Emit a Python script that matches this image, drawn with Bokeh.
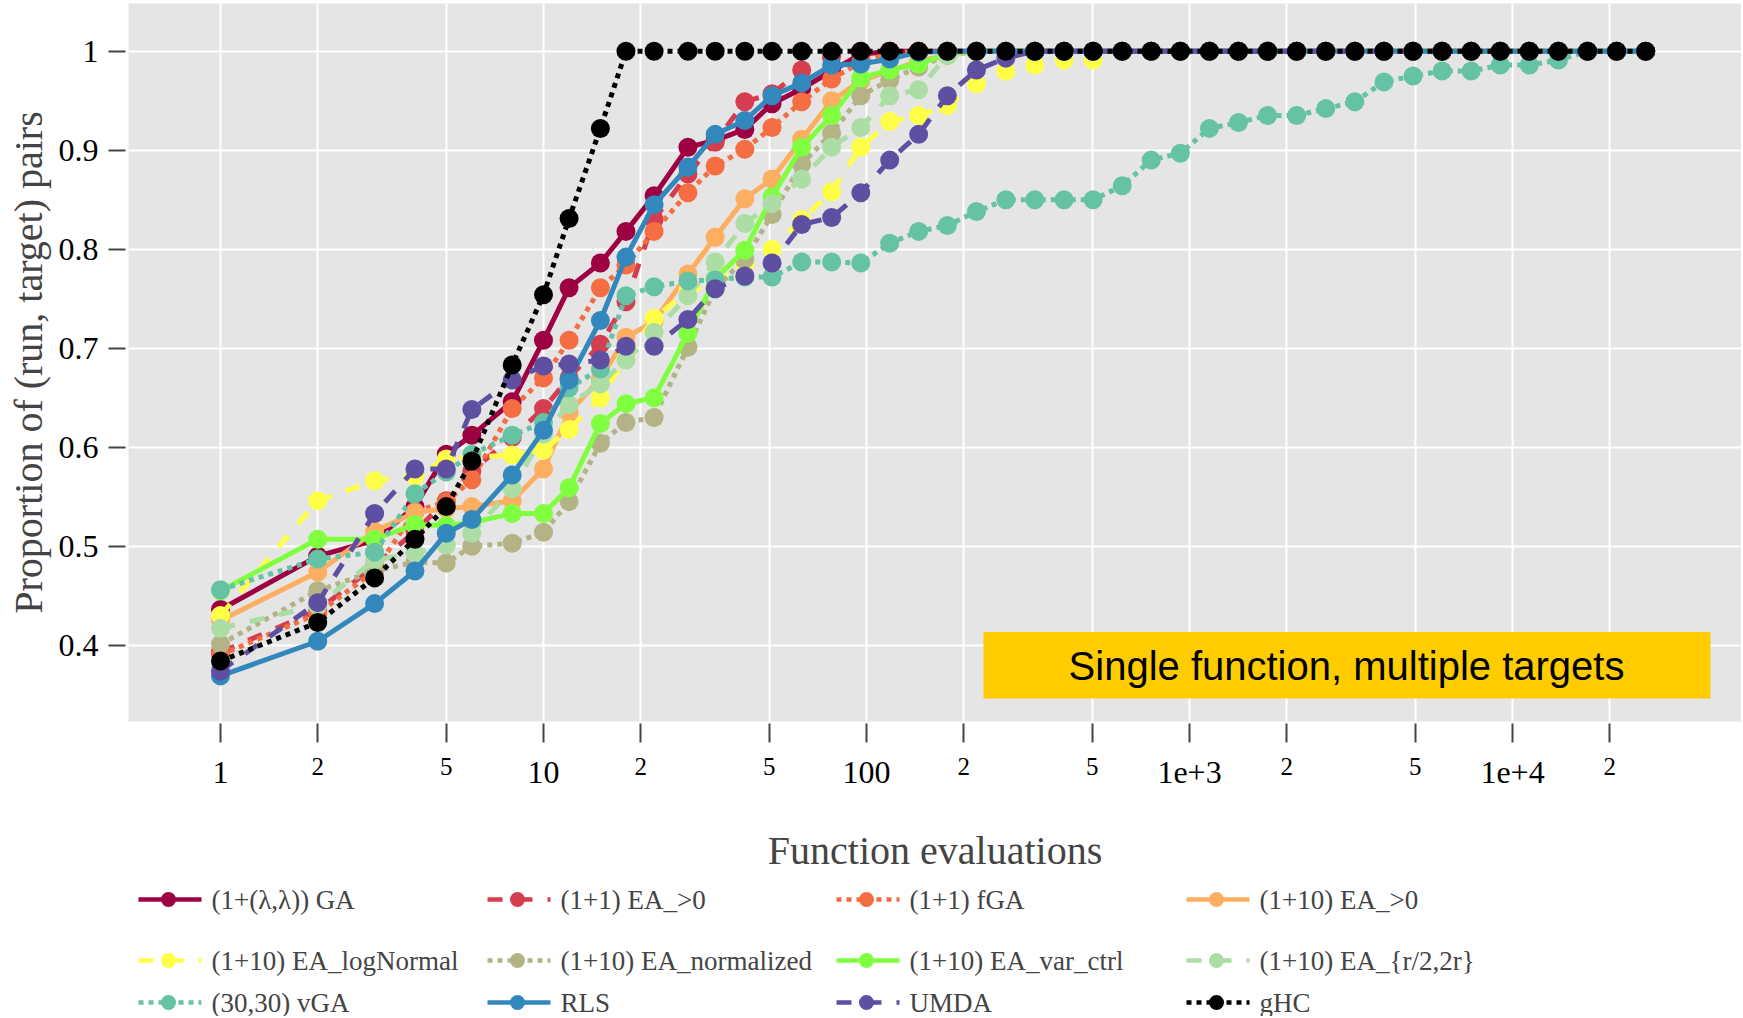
import math
from bokeh.plotting import figure
from bokeh.models import Range1d, FixedTicker, CustomJSTickFormatter, Label, BoxAnnotation, LogAxis
from bokeh.layouts import column
from bokeh.embed import file_html
from bokeh.resources import INLINE
from bokeh.core.properties import value

# ---------------- data ----------------
evals = [1, 2, 3, 4, 5, 6, 8, 10, 12, 15, 18, 22, 28, 34, 42, 51, 63, 78, 96, 118,
         145, 178, 219, 270, 332, 409, 503, 619, 761, 937, 1153, 1418, 1745, 2147,
         2642, 3251, 3999, 4921, 6054, 7449, 9166, 11277, 13876, 17073, 21006, 25846]

ga_ll = [0.436, 0.490, 0.506, 0.540, 0.593, 0.612, 0.646, 0.708, 0.761, 0.786,
         0.818, 0.854, 0.903, 0.910, 0.921, 0.947, 0.962, 0.980, 0.997, 1.0,
         1.0, 1.0, 1.0, 1.0, 1.0, 1.0, 1.0, 1.0, 1.0, 1.0, 1.0, 1.0, 1.0, 1.0,
         1.0, 1.0, 1.0, 1.0, 1.0, 1.0, 1.0, 1.0, 1.0, 1.0, 1.0, 1.0]
ea11_gt0 = [0.393, 0.435, 0.480, 0.515, 0.546, 0.576, 0.610, 0.639, 0.670, 0.704,
            0.747, 0.830, 0.876, 0.908, 0.949, 0.957, 0.981, 0.995, 1.0, 1.0,
            1.0, 1.0, 1.0, 1.0, 1.0, 1.0, 1.0, 1.0, 1.0, 1.0, 1.0, 1.0, 1.0, 1.0,
            1.0, 1.0, 1.0, 1.0, 1.0, 1.0, 1.0, 1.0, 1.0, 1.0, 1.0, 1.0]
fga11 = [0.390, 0.432, 0.475, 0.535, 0.545, 0.567, 0.639, 0.670, 0.708, 0.761,
         0.784, 0.818, 0.857, 0.884, 0.901, 0.923, 0.949, 0.972, 0.989, 0.998,
         1.0, 1.0, 1.0, 1.0, 1.0, 1.0, 1.0, 1.0, 1.0, 1.0, 1.0, 1.0, 1.0, 1.0,
         1.0, 1.0, 1.0, 1.0, 1.0, 1.0, 1.0, 1.0, 1.0, 1.0, 1.0, 1.0]
ea110_gt0 = [0.425, 0.474, 0.515, 0.534, 0.538, 0.540, 0.546, 0.578, 0.635, 0.669,
             0.711, 0.727, 0.775, 0.812, 0.851, 0.871, 0.911, 0.950, 0.970, 0.980,
             0.990, 0.996, 1.0, 1.0, 1.0, 1.0, 1.0, 1.0, 1.0, 1.0, 1.0, 1.0, 1.0, 1.0,
             1.0, 1.0, 1.0, 1.0, 1.0, 1.0, 1.0, 1.0, 1.0, 1.0, 1.0, 1.0]
ea110_lognormal = [0.430, 0.546, 0.566, 0.571, 0.588, 0.590, 0.592, 0.597, 0.618, 0.650,
                   0.690, 0.730, 0.758, 0.765, 0.785, 0.800, 0.830, 0.858, 0.903, 0.929,
                   0.935, 0.945, 0.967, 0.980, 0.986, 0.991, 0.991, 1.0, 1.0, 1.0, 1.0, 1.0,
                   1.0, 1.0, 1.0, 1.0, 1.0, 1.0, 1.0, 1.0, 1.0, 1.0, 1.0, 1.0, 1.0, 1.0]
ea110_normalized = [0.401, 0.455, 0.475, 0.484, 0.483, 0.500, 0.503, 0.514, 0.545, 0.604,
                    0.625, 0.630, 0.701, 0.760, 0.790, 0.835, 0.886, 0.917, 0.955, 0.971,
                    0.984, 0.996, 1.0, 1.0, 1.0, 1.0, 1.0, 1.0, 1.0, 1.0, 1.0, 1.0, 1.0, 1.0,
                    1.0, 1.0, 1.0, 1.0, 1.0, 1.0, 1.0, 1.0, 1.0, 1.0, 1.0, 1.0]
ea110_varctrl = [0.455, 0.507, 0.507, 0.522, 0.521, 0.524, 0.533, 0.533, 0.559, 0.624,
                 0.644, 0.650, 0.715, 0.770, 0.799, 0.853, 0.903, 0.935, 0.973, 0.981,
                 0.987, 0.997, 1.0, 1.0, 1.0, 1.0, 1.0, 1.0, 1.0, 1.0, 1.0, 1.0, 1.0, 1.0,
                 1.0, 1.0, 1.0, 1.0, 1.0, 1.0, 1.0, 1.0, 1.0, 1.0, 1.0, 1.0]
ea110_r2_2r = [0.417, 0.440, 0.486, 0.493, 0.501, 0.513, 0.558, 0.613, 0.643, 0.664,
               0.688, 0.716, 0.753, 0.787, 0.826, 0.846, 0.871, 0.903, 0.923, 0.955,
               0.961, 0.996, 1.0, 1.0, 1.0, 1.0, 1.0, 1.0, 1.0, 1.0, 1.0, 1.0, 1.0, 1.0,
               1.0, 1.0, 1.0, 1.0, 1.0, 1.0, 1.0, 1.0, 1.0, 1.0, 1.0, 1.0]
vga_3030 = [0.456, 0.487, 0.494, 0.553, 0.575, 0.593, 0.612, 0.625, 0.660, 0.679,
            0.753, 0.762, 0.768, 0.769, 0.772, 0.772, 0.787, 0.787, 0.786, 0.806,
            0.818, 0.824, 0.838, 0.850, 0.850, 0.850, 0.850, 0.864, 0.890, 0.897,
            0.922, 0.928, 0.935, 0.935, 0.942, 0.949, 0.969, 0.975, 0.980, 0.980,
            0.986, 0.986, 0.991, 1.0, 1.0, 1.0]
rls = [0.369, 0.404, 0.442, 0.475, 0.513, 0.527, 0.572, 0.617, 0.668, 0.728,
       0.792, 0.845, 0.883, 0.916, 0.930, 0.955, 0.968, 0.986, 0.987, 0.992,
       0.999, 1.0, 1.0, 1.0, 1.0, 1.0, 1.0, 1.0, 1.0, 1.0, 1.0, 1.0, 1.0, 1.0,
       1.0, 1.0, 1.0, 1.0, 1.0, 1.0, 1.0, 1.0, 1.0, 1.0, 1.0, 1.0]
umda = [0.374, 0.443, 0.533, 0.578, 0.578, 0.638, 0.668, 0.682, 0.684, 0.688,
        0.702, 0.702, 0.729, 0.760, 0.773, 0.786, 0.825, 0.832, 0.857, 0.890,
        0.916, 0.955, 0.981, 0.993, 1.0, 1.0, 1.0, 1.0, 1.0, 1.0, 1.0, 1.0, 1.0, 1.0,
        1.0, 1.0, 1.0, 1.0, 1.0, 1.0, 1.0, 1.0, 1.0, 1.0, 1.0, 1.0]
ghc = [0.384, 0.423, 0.468, 0.507, 0.540, 0.586, 0.683, 0.754, 0.831, 0.922,
       1.0, 1.0, 1.0, 1.0, 1.0, 1.0, 1.0, 1.0, 1.0, 1.0, 1.0, 1.0, 1.0, 1.0,
       1.0, 1.0, 1.0, 1.0, 1.0, 1.0, 1.0, 1.0, 1.0, 1.0, 1.0, 1.0, 1.0, 1.0,
       1.0, 1.0, 1.0, 1.0, 1.0, 1.0, 1.0, 1.0]

names = ["(1+(λ,λ)) GA", "(1+1) EA_>0", "(1+1) fGA", "(1+10) EA_>0",
         "(1+10) EA_logNormal", "(1+10) EA_normalized", "(1+10) EA_var_ctrl", "(1+10) EA_{r/2,2r}",
         "(30,30) vGA", "RLS", "UMDA", "gHC"]
series = [ga_ll, ea11_gt0, fga11, ea110_gt0, ea110_lognormal, ea110_normalized,
          ea110_varctrl, ea110_r2_2r, vga_3030, rls, umda, ghc]
colors = ["#9E0142", "#D53E4F", "#F46D43", "#FDAE61", "#FFFF47", "#B3B386",
          "#80FF40", "#ABDDA4", "#66C2A5", "#3288BD", "#5E4FA2", "#000000"]
styles = ["solid", "dash", "dot", "solid", "dash", "dot",
          "solid", "dash", "dot", "solid", "dash", "dot"]

xtick_major = [1, 10, 100, 1000, 10000]
xtick_major_labels = ["1", "10", "100", "1e+3", "1e+4"]
xtick_minor = [2, 5, 20, 50, 200, 500, 2000, 5000, 20000]
xtick_minor_labels = ["2", "5", "2", "5", "2", "5", "2", "5", "2"]
ytick_vals = [0.4, 0.5, 0.6, 0.7, 0.8, 0.9, 1.0]

title_y = "Proportion of (run, target) pairs"
title_x = "Function evaluations"
note = "Single function, multiple targets"

# ---------------- geometry (page pixels) ----------------
FIG_W, FIG_H, LEG_H = 1741, 880, 136
FRAME_L, FRAME_R, FRAME_T, FRAME_B = 128, 1741, 3, 721
X_AT_1, PX_PER_DEC = 220.0, 323.0
Y_AT_1, PX_PER_UNIT = 50.7, 990.0
LW = 5
DASH = {"solid": "solid", "dash": "15 15", "dot": "5 5"}
SERIF = "Liberation Serif"


def data_x(px):
    return 10 ** ((px - X_AT_1) / PX_PER_DEC)


def data_y(py):
    return 1.0 - (py - Y_AT_1) / PX_PER_UNIT


p = figure(width=FIG_W, height=FIG_H, x_axis_type="log",
           x_range=Range1d(data_x(FRAME_L), data_x(FRAME_R)),
           y_range=Range1d(data_y(FRAME_B), data_y(FRAME_T)),
           output_backend="svg", toolbar_location=None,
           min_border_left=FRAME_L, min_border_right=FIG_W - FRAME_R,
           min_border_top=FRAME_T, min_border_bottom=FIG_H - FRAME_B)
p.background_fill_color = "#E5E5E5"
p.border_fill_color = "white"
p.outline_line_color = None

xt = FixedTicker(ticks=sorted(xtick_major + xtick_minor))
yt = FixedTicker(ticks=ytick_vals)
p.xgrid.ticker = xt
p.ygrid.ticker = yt
p.grid.grid_line_color = "white"
p.grid.grid_line_width = 2
p.grid.minor_grid_line_color = None

LOOKUP = ("for (let i = 0; i < vals.length; i++) {"
          " if (Math.abs(vals[i] - tick) < 1e-6 * vals[i]) return labs[i]; } return '';")

# axis A: tick marks + small minor labels
ax_a = p.xaxis[0]
ax_a.ticker = xt
ax_a.formatter = CustomJSTickFormatter(args=dict(vals=xtick_minor, labs=xtick_minor_labels), code=LOOKUP)
ax_a.major_label_text_font_size = "25px"
ax_a.major_tick_in = -2
ax_a.major_tick_out = 21
ax_a.major_label_standoff = 15

# axis B: big major labels on (almost) the same line + axis title
ax_b = LogAxis(ticker=xt,
               formatter=CustomJSTickFormatter(args=dict(vals=xtick_major, labs=xtick_major_labels), code=LOOKUP))
p.add_layout(ax_b, "below")
ax_b.major_label_text_font_size = "32px"
ax_b.major_tick_in = 0
ax_b.major_tick_out = 0
ax_b.major_tick_line_color = None
ax_b.major_label_standoff = -16
ax_b.axis_label = title_x
ax_b.axis_label_text_font = SERIF
ax_b.axis_label_text_font_size = "40px"
ax_b.axis_label_text_font_style = "normal"
ax_b.axis_label_text_color = "#444444"
ax_b.axis_label_standoff = 42

ax_y = p.yaxis[0]
ax_y.ticker = yt
ax_y.formatter = CustomJSTickFormatter(code="return (Math.round(tick * 10) / 10).toString();")
ax_y.major_label_text_font_size = "32px"
ax_y.major_tick_in = -3
ax_y.major_tick_out = 20
ax_y.major_label_standoff = 10
ax_y.axis_label = title_y
ax_y.axis_label_text_font = SERIF
ax_y.axis_label_text_font_size = "40px"
ax_y.axis_label_text_font_style = "normal"
ax_y.axis_label_text_color = "#444444"
ax_y.axis_label_standoff = 5

for ax in (ax_a, ax_b, ax_y):
    ax.axis_line_color = None
    ax.minor_tick_line_color = None
    ax.major_label_text_font = SERIF
    ax.major_label_text_color = "black"
for ax in (ax_a, ax_y):
    ax.major_tick_line_color = "#444444"
    ax.major_tick_line_width = 2

# series
for vals, col, st in zip(series, colors, styles):
    p.line(evals, vals, line_color=col, line_width=LW, line_dash=DASH[st])
    p.scatter(evals, vals, size=19, fill_color=col, line_color=None)

# annotation box
p.add_layout(BoxAnnotation(left=data_x(983), right=data_x(1710),
                           top=data_y(631.5), bottom=data_y(698),
                           fill_color="#FFCC00", fill_alpha=1.0, line_color=None))
p.add_layout(Label(x=data_x(1346), y=data_y(665), text=note, text_align="center",
                   text_baseline="middle", text_font="Liberation Sans",
                   text_font_size="40px", text_color="black"))

# ---------------- legend (own strip under the chart) ----------------
leg = figure(width=FIG_W, height=LEG_H, x_range=Range1d(FRAME_L, FRAME_R),
             y_range=Range1d(FIG_H + LEG_H, FIG_H),
             output_backend="svg", toolbar_location=None,
             min_border_left=FRAME_L, min_border_right=FIG_W - FRAME_R,
             min_border_top=0, min_border_bottom=0,
             x_axis_type=None, y_axis_type=None)
leg.outline_line_color = None
leg.background_fill_color = "white"
leg.border_fill_color = "white"
leg.grid.visible = False

col_x = [138, 487, 836, 1186]
row_y = [899, 960, 1002]
for i, (name, col, st) in enumerate(zip(names, colors, styles)):
    x0 = col_x[i % 4]
    y0 = row_y[i // 4]
    leg.line([x0, x0 + 63], [y0, y0], line_color=col, line_width=4.5, line_dash=DASH[st])
    leg.scatter([x0 + 30], [y0], size=15, fill_color=col, line_color=None)
    leg.text([x0 + 73], [y0], text=[name], text_font=value(SERIF), text_font_size="27px",
             text_baseline="middle", text_align="left", text_color="#444444")

layout = column(p, leg, spacing=0)
open("out.html", "w").write(file_html(layout, INLINE))
